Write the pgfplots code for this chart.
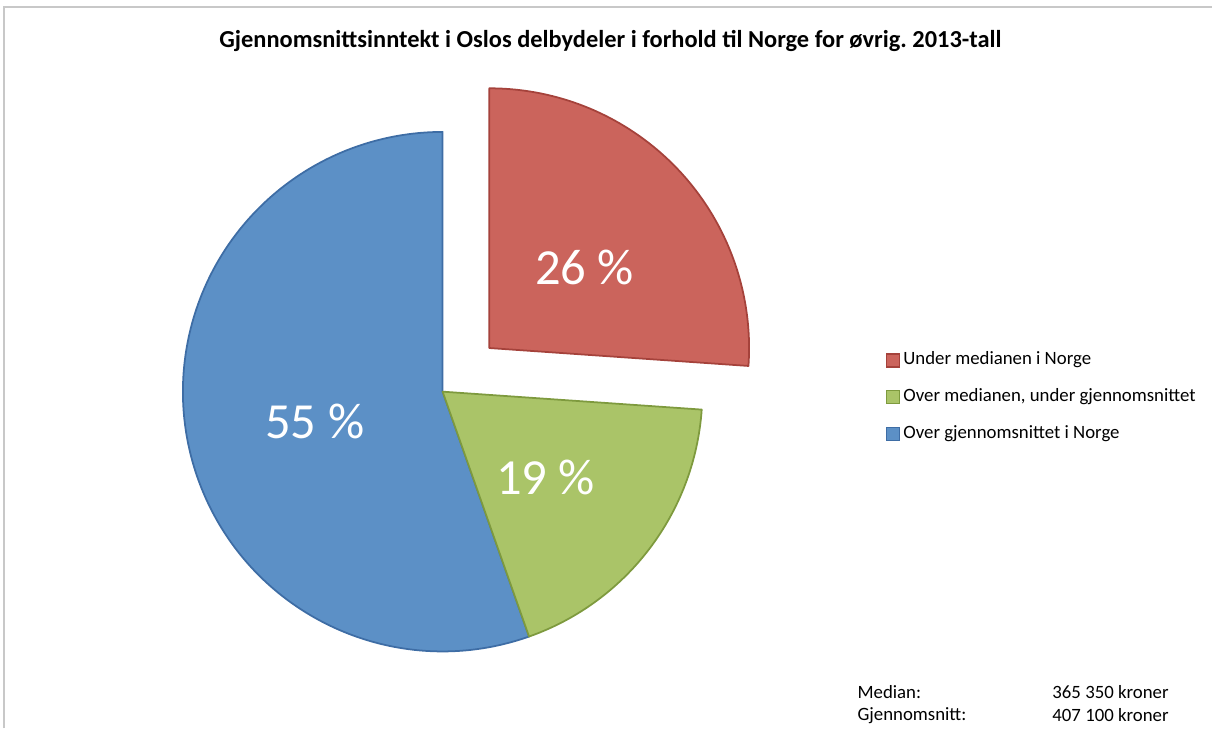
\documentclass[border=0pt]{standalone}
\usepackage{pgfplots}
\pgfplotsset{compat=1.18}
\usepackage{fontspec}
\setmainfont{Carlito}
\frenchspacing

\definecolor{redfill}{HTML}{CB645C}
\definecolor{redline}{HTML}{A5423B}
\definecolor{greenfill}{HTML}{AAC468}
\definecolor{greenline}{HTML}{7E9A3E}
\definecolor{bluefill}{HTML}{5C90C6}
\definecolor{blueline}{HTML}{3E6DA5}
\definecolor{framegray}{HTML}{C8C8C8}

\begin{document}
\begin{tikzpicture}
% shares in percent (labels show them rounded)
\pgfmathsetmacro{\pRed}{26.1}
\pgfmathsetmacro{\pGreen}{18.5}
\pgfmathsetmacro{\pBlue}{55.4}
% slice angles, clockwise from 12 o'clock
\pgfmathsetmacro{\aA}{90}
\pgfmathsetmacro{\aB}{90-3.6*\pRed}
\pgfmathsetmacro{\aC}{\aB-3.6*\pGreen}
\pgfmathsetmacro{\aD}{\aC-3.6*\pBlue}
% exploded red slice
\pgfmathsetmacro{\aMid}{(\aA+\aB)/2}
\pgfmathsetmacro{\ex}{443+64*cos(\aMid)}
\pgfmathsetmacro{\ey}{337+64*sin(\aMid)}

\begin{axis}[
  x=0.02cm, y=0.02cm,
  xmin=0, xmax=1213, ymin=0, ymax=729,
  hide axis, clip=false,
  legend image code/.code={\draw[#1, line width=0.6pt] (0cm,-0.13cm) rectangle (0.26cm,0.13cm);},
  legend style={
    at={(0.7263,0.522)}, anchor=north west,
    draw=none, fill=none,
    font=\fontsize{10.7}{12}\selectfont,
    nodes={inner sep=0pt, text height=0.26cm, text depth=0.08cm},
    row sep=0.4cm,
    /tikz/every odd column/.append style={column sep=0.07cm},
  },
  legend cell align=left,
]
\path (axis cs:0,0) rectangle (axis cs:1213,729);

% frame
\draw[framegray, line width=1.2pt] (axis cs:4,0) -- (axis cs:4,722) -- (axis cs:1213,722);

% title
\node[font=\fontsize{13.9}{16}\selectfont\bfseries] at (axis cs:611,688)
  {Gjennomsnittsinntekt i Oslos delbydeler i forhold til Norge for øvrig. 2013-tall};

% slices
\filldraw[fill=bluefill, draw=blueline, line width=1pt, line join=round]
  (axis cs:443,337) -- ++(\aC:5.2cm) arc[start angle=\aC, end angle=\aD, radius=5.2cm] -- cycle;
\filldraw[fill=greenfill, draw=greenline, line width=1pt, line join=round]
  (axis cs:443,337) -- ++(\aB:5.2cm) arc[start angle=\aB, end angle=\aC, radius=5.2cm] -- cycle;
\filldraw[fill=redfill, draw=redline, line width=1pt, line join=round]
  (axis cs:\ex,\ey) -- ++(\aA:5.2cm) arc[start angle=\aA, end angle=\aB, radius=5.2cm] -- cycle;

% data labels
\node[white, font=\fontsize{28.8}{34}\selectfont] at (axis cs:585,461) {26 \%};
\node[white, font=\fontsize{28.8}{34}\selectfont] at (axis cs:546,251) {19 \%};
\node[white, font=\fontsize{28.8}{34}\selectfont] at (axis cs:315,307) {55 \%};

% legend
\addlegendimage{fill=redfill, draw=redline}
\addlegendentry{Under medianen i Norge}
\addlegendimage{fill=greenfill, draw=greenline}
\addlegendentry{Over medianen, under gjennomsnittet}
\addlegendimage{fill=bluefill, draw=blueline}
\addlegendentry{Over gjennomsnittet i Norge}

% note
\node[anchor=west, inner sep=0pt, font=\fontsize{10.7}{12}\selectfont] at (axis cs:858,36) {Median:};
\node[anchor=west, inner sep=0pt, font=\fontsize{10.7}{12}\selectfont] at (axis cs:858,13) {Gjennomsnitt:};
\node[anchor=west, inner sep=0pt, font=\fontsize{10.7}{12}\selectfont] at (axis cs:1053,36) {365 350 kroner};
\node[anchor=west, inner sep=0pt, font=\fontsize{10.7}{12}\selectfont] at (axis cs:1053,13) {407 100 kroner};
\end{axis}
\end{tikzpicture}
\end{document}
